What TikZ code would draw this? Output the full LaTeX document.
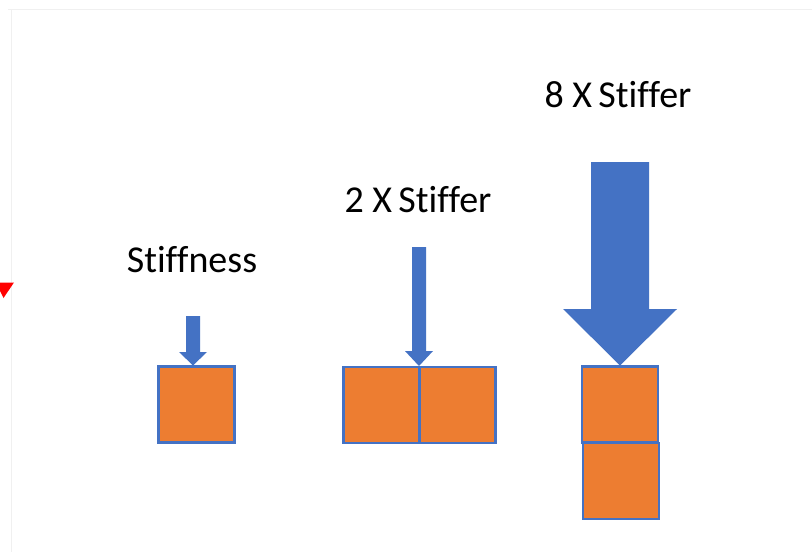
\documentclass[tikz,border=0pt]{standalone}
\usepackage{fontspec}
\setmainfont[Ligatures=NoCommon]{Carlito}
\definecolor{ppblue}{HTML}{4472C4}
\definecolor{pporange}{HTML}{ED7D31}
\definecolor{framegray}{HTML}{F0F0F0}
\begin{document}
\begin{tikzpicture}[x=1pt,y=-1pt,
  block/.style={draw=ppblue,fill=pporange,line width=2.2pt,minimum width=76pt,minimum height=76pt,inner sep=0pt,outer sep=0pt},
  force/.style={fill=ppblue,draw=none},
  lbl/.style={anchor=base,font=\fontsize{38}{40}\selectfont,inner sep=0pt}]
\useasboundingbox (0,0) rectangle (812,552);
\fill[white] (0,0) rectangle (812,552);
% faint frame
\draw[framegray,line width=1pt] (8,9.5) -- (812,9.5);
\draw[framegray,line width=1pt] (11,9.5) -- (11,552);
% red tip at left edge
\fill[red] (-4,282.5) -- (14,282.5) -- (3.5,298) -- cycle;
% labels
\node[lbl] (t1) at (192,272) {Stiffness};
\node[lbl] (t2) at (418,212) {2 X\,Stiffer};
\node[lbl] (t3) at (618,107) {8 X\,Stiffer};
% blocks
\node[block] (b1) at (196.5,404.5) {};
\node[block] (b2a) at (381.5,405) {};
\node[block] (b2b) at (457.5,405) {};
\node[block] (b3b) at (621,481) {};
\node[block] (b3a) at (620,404.5) {};
% block arrows
\fill[force] (186,316) -- (200,316) -- (200,352) -- (207,352) -- (193,365.5) -- (179,352) -- (186,352) -- cycle;
\fill[force] (412,247) -- (426,247) -- (426,351) -- (433,351) -- (419,366) -- (405,351) -- (412,351) -- cycle;
\fill[force] (591,162) -- (649,162) -- (649,309) -- (677,309) -- (620,365.5) -- (563,309) -- (591,309) -- cycle;
\end{tikzpicture}
\end{document}
